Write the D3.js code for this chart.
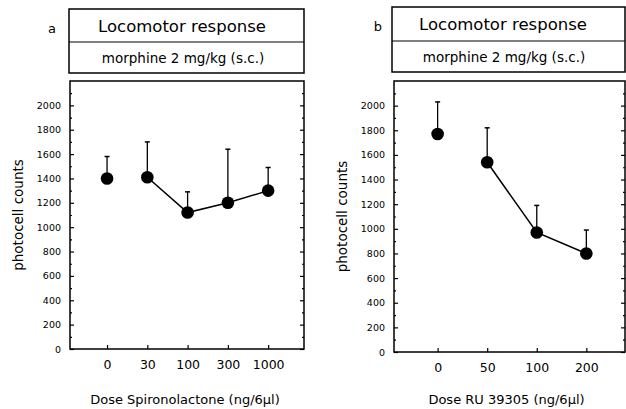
<!DOCTYPE html>
<html><head><meta charset="utf-8">
<script src="https://cdn.jsdelivr.net/npm/d3@7"></script>
<style>body{margin:0;background:#fff}svg{display:block}text{font-family:"DejaVu Sans",sans-serif;fill:#000}</style>
</head><body>
<svg id="c" width="626" height="409"></svg>
<script>
const catsA = ["0","30","100","300","1000"];
const meanA = [1400,1410,1120,1200,1300];
const errA  = [1580,1700,1290,1640,1490];
const linkedA = [false,true,true,true,true];
const catsB = ["0","50","100","200"];
const meanB = [1770,1540,970,800];
const errB  = [2030,1820,1190,990];
const linkedB = [false,true,true,true];
const yTicks = [0,200,400,600,800,1000,1200,1400,1600,1800,2000];

const svg = d3.select("#c");

function panel(o){
  const g = svg.append("g");
  g.append("rect").attr("x",o.hx0).attr("y",o.hy0).attr("width",o.hx1-o.hx0).attr("height",o.hy1-o.hy0)
    .attr("fill","none").attr("stroke","#000").attr("stroke-width",1.5);
  g.append("line").attr("x1",o.hx0).attr("x2",o.hx1).attr("y1",o.hdiv).attr("y2",o.hdiv).attr("stroke","#000").attr("stroke-width",1.2);
  const hc = o.hcx || (o.hx0+o.hx1)/2;
  g.append("text").attr("x",hc).attr("y",o.hy0+23).attr("text-anchor","middle").attr("font-size",16.5).text("Locomotor response");
  g.append("text").attr("x",hc+1).attr("y",o.hdiv+21).attr("text-anchor","middle").attr("font-size",13.5).text("morphine 2 mg/kg (s.c.)");
  g.append("text").attr("x",o.lx).attr("y",o.hy0+24).attr("text-anchor","middle").attr("font-size",13).text(o.letter);

  const x = d3.scaleLinear().domain(o.xdom).range([o.x0,o.x1]);
  const y = d3.scaleLinear().domain([0,2200]).range([o.y1,o.y0]);

  g.append("rect").attr("x",o.x0).attr("y",o.y0).attr("width",o.x1-o.x0).attr("height",o.y1-o.y0)
    .attr("fill","none").attr("stroke","#000").attr("stroke-width",1.5);

  const ya = g.append("g").attr("transform",`translate(${o.x0},0)`)
    .call(d3.axisLeft(y).tickValues(yTicks).tickSize(-4).tickPadding(9).tickFormat(d3.format("d")));
  ya.select(".domain").remove();
  ya.selectAll("text").attr("font-size",9.5);
  const minor = d3.range(100,2200,200);
  const ym = g.append("g").attr("transform",`translate(${o.x0},0)`)
    .call(d3.axisLeft(y).tickValues(minor).tickSize(-2).tickFormat(""));
  ym.select(".domain").remove();
  const yr = g.append("g").attr("transform",`translate(${o.x1},0)`)
    .call(d3.axisRight(y).tickValues(yTicks).tickSize(-4).tickFormat(""));
  yr.select(".domain").remove();
  const yrm = g.append("g").attr("transform",`translate(${o.x1},0)`)
    .call(d3.axisRight(y).tickValues(minor).tickSize(-2).tickFormat(""));
  yrm.select(".domain").remove();
  g.selectAll(".tick line").attr("stroke-width",1.2);

  const xa = g.append("g").attr("transform",`translate(0,${o.y1})`)
    .call(d3.axisBottom(x).tickValues(d3.range(o.cats.length)).tickSize(-4).tickPadding(11).tickFormat(i=>o.cats[i]));
  xa.select(".domain").remove();
  xa.selectAll("text").attr("font-size",12.5);
  xa.selectAll(".tick line").attr("stroke-width",1.2);

  g.append("text").attr("transform",`translate(${o.ytx},${(o.y0+o.y1)/2}) rotate(-90)`).attr("text-anchor","middle")
    .attr("font-size",13.5).text("photocell counts");
  g.append("text").attr("x",(o.x0+o.x1)/2+o.xtoff).attr("y",404).attr("text-anchor","middle").attr("font-size",13).text(o.xtitle);

  o.mean.forEach((m,i)=>{
    g.append("line").attr("x1",x(i)).attr("x2",x(i)).attr("y1",y(m)).attr("y2",y(o.err[i])).attr("stroke","#000").attr("stroke-width",1.3);
    g.append("line").attr("x1",x(i)-2.5).attr("x2",x(i)+2.5).attr("y1",y(o.err[i])).attr("y2",y(o.err[i])).attr("stroke","#000").attr("stroke-width",1.5);
  });
  const pts = o.mean.map((m,i)=>({i,m})).filter(d=>o.linked[d.i]);
  g.append("path").datum(pts).attr("fill","none").attr("stroke","#000").attr("stroke-width",1.5)
    .attr("d",d3.line().x(d=>x(d.i)).y(d=>y(d.m)));
  g.selectAll("circle.pt").data(o.mean).enter().append("circle").attr("class","pt")
    .attr("cx",(d,i)=>x(i)).attr("cy",d=>y(d)).attr("r",6.3).attr("fill","#000");
}

panel({letter:"a",lx:52,hx0:69,hx1:304,hy0:9,hdiv:42,hy1:73,hcx:182,
  x0:70,x1:304,y0:81,y1:349,xdom:[-0.92,4.89],cats:catsA,mean:meanA,err:errA,linked:linkedA,
  ytx:23,xtitle:"Dose Spironolactone (ng/6\u00b5l)",xtoff:-2});
panel({letter:"b",lx:378,hx0:392,hx1:625,hy0:7,hdiv:41,hy1:72,hcx:503,
  x0:394,x1:625,y0:81,y1:352,xdom:[-0.88,3.78],cats:catsB,mean:meanB,err:errB,linked:linkedB,
  ytx:347,xtitle:"Dose RU 39305 (ng/6\u00b5l)",xtoff:-3});
</script>
</body></html>
